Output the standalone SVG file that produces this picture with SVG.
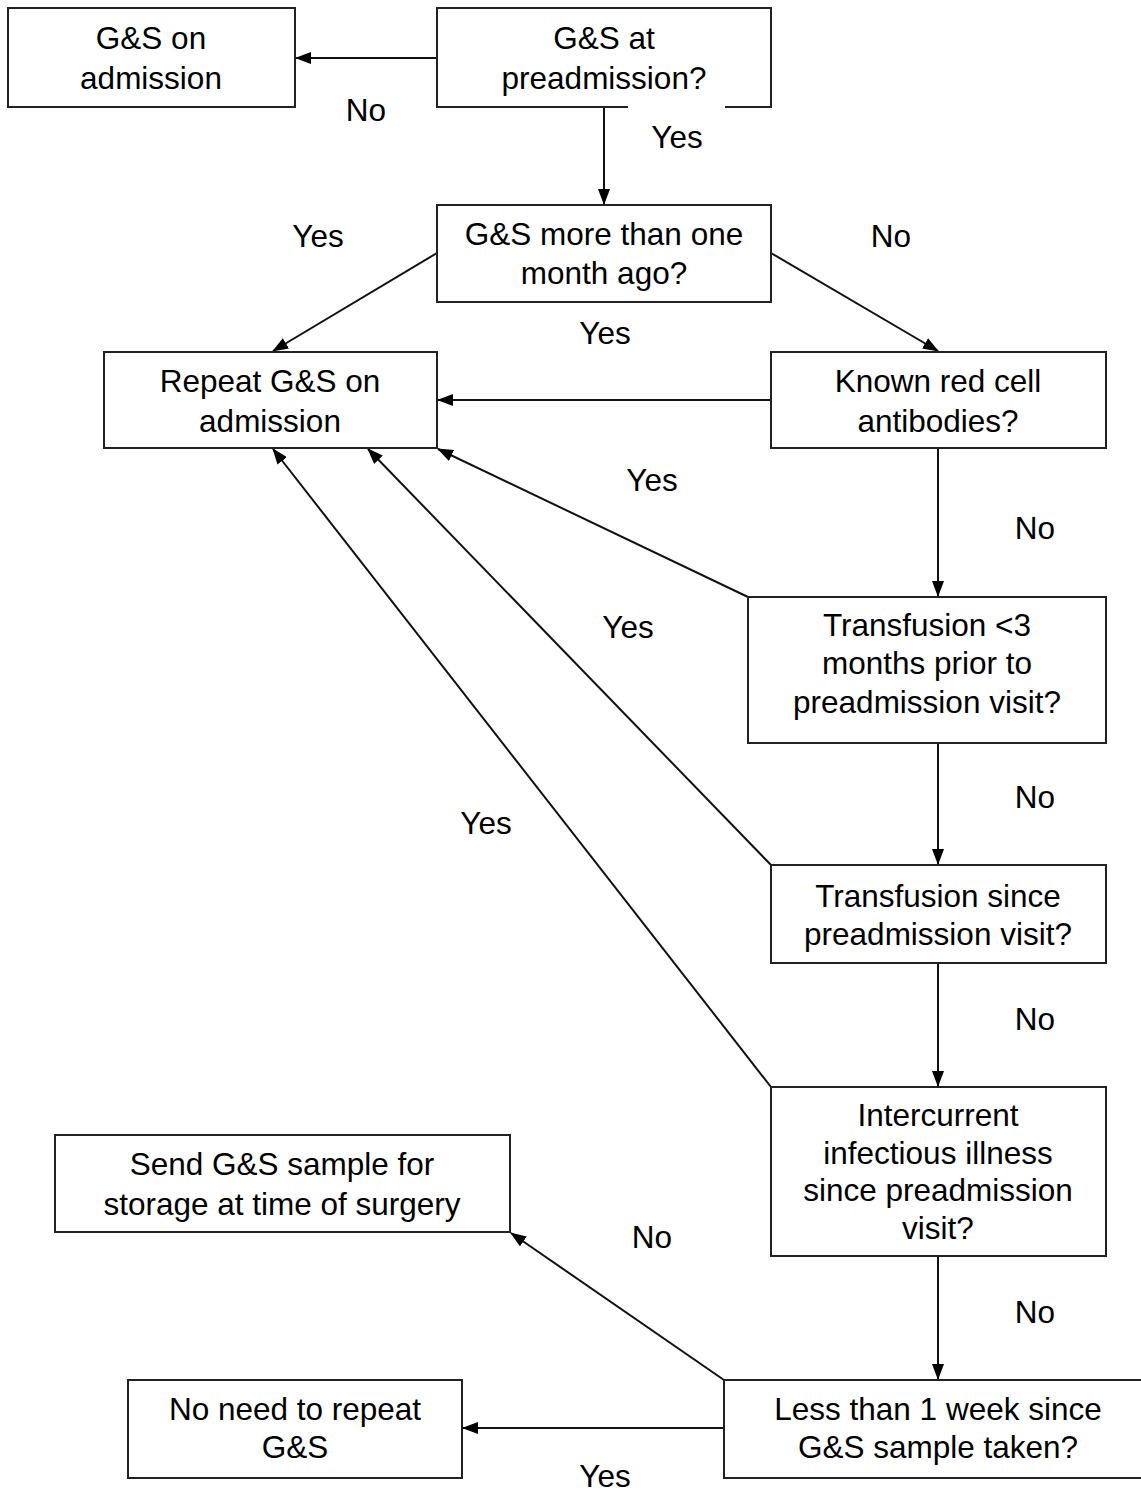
<svg xmlns="http://www.w3.org/2000/svg" width="1141" height="1494" viewBox="0 0 1141 1494">
<defs>
<marker id="ah" markerWidth="16" markerHeight="12" refX="15" refY="6" orient="auto" markerUnits="userSpaceOnUse">
<path d="M0,0 L16,6 L0,12 Z" fill="#000"/>
</marker>
<style>
rect.b{fill:#fff;stroke:#222;stroke-width:2}
text{font-family:"Liberation Sans",Arial,sans-serif;font-size:31.5px;fill:#000;text-anchor:middle}
.c line{stroke:#111;stroke-width:2;marker-end:url(#ah)}
</style>
</defs>
<rect width="1141" height="1494" fill="#fff"/>
<g id="connectors" class="c">
<line x1="437" y1="58" x2="296" y2="58"/>
<line x1="604" y1="107" x2="604" y2="204"/>
<line x1="437" y1="253" x2="273" y2="351"/>
<line x1="771" y1="253" x2="938" y2="351"/>
<line x1="771" y1="400" x2="438" y2="400"/>
<line x1="938" y1="448" x2="938" y2="596"/>
<line x1="748" y1="597" x2="438" y2="449"/>
<line x1="938" y1="743" x2="938" y2="864"/>
<line x1="771" y1="865" x2="368" y2="449"/>
<line x1="938" y1="963" x2="938" y2="1086"/>
<line x1="771" y1="1087" x2="273" y2="449"/>
<line x1="938" y1="1256" x2="938" y2="1379"/>
<line x1="724" y1="1380" x2="511" y2="1233"/>
<line x1="724" y1="1428" x2="463" y2="1428"/>
</g>
<g id="n1"><rect class="b" x="8" y="8" width="287" height="99"/><text x="151" y="49">G&amp;S on</text><text x="151" y="89">admission</text></g>
<g id="n2"><rect class="b" x="437" y="8" width="334" height="99"/><text x="604" y="49">G&amp;S at</text><text x="604" y="89">preadmission?</text></g>
<g id="n3"><rect class="b" x="437" y="205" width="334" height="97"/><text x="604" y="245">G&amp;S more than one</text><text x="604" y="284">month ago?</text></g>
<g id="n4"><rect class="b" x="104" y="352" width="333" height="96"/><text x="270" y="392">Repeat G&amp;S on</text><text x="270" y="432">admission</text></g>
<g id="n5"><rect class="b" x="771" y="352" width="335" height="96"/><text x="938" y="392">Known red cell</text><text x="938" y="432">antibodies?</text></g>
<g id="n6"><rect class="b" x="748" y="597" width="358" height="146"/><text x="927" y="636">Transfusion &lt;3</text><text x="927" y="674">months prior to</text><text x="927" y="713">preadmission visit?</text></g>
<g id="n7"><rect class="b" x="771" y="865" width="335" height="98"/><text x="938" y="907">Transfusion since</text><text x="938" y="945">preadmission visit?</text></g>
<g id="n8"><rect class="b" x="771" y="1087" width="335" height="169"/><text x="938" y="1126">Intercurrent</text><text x="938" y="1164">infectious illness</text><text x="938" y="1201">since preadmission</text><text x="938" y="1239">visit?</text></g>
<g id="n9"><rect class="b" x="55" y="1135" width="455" height="97"/><text x="282" y="1175">Send G&amp;S sample for</text><text x="282" y="1215">storage at time of surgery</text></g>
<g id="n10"><rect class="b" x="128" y="1380" width="334" height="98"/><text x="295" y="1420">No need to repeat</text><text x="295" y="1458">G&amp;S</text></g>
<g id="n11"><rect class="b" x="724" y="1380" width="430" height="98"/><text x="938" y="1420">Less than 1 week since</text><text x="938" y="1458">G&amp;S sample taken?</text></g>
<g id="labels">
<rect x="628" y="104" width="97" height="6" fill="#fff"/>
<text x="366" y="121">No</text>
<text x="677" y="148">Yes</text>
<text x="318" y="247">Yes</text>
<text x="891" y="247">No</text>
<text x="605" y="344">Yes</text>
<text x="652" y="491">Yes</text>
<text x="1035" y="539">No</text>
<text x="628" y="638">Yes</text>
<text x="1035" y="808">No</text>
<text x="486" y="834">Yes</text>
<text x="1035" y="1030">No</text>
<text x="652" y="1248">No</text>
<text x="1035" y="1323">No</text>
<text x="605" y="1487">Yes</text>
</g>
</svg>
